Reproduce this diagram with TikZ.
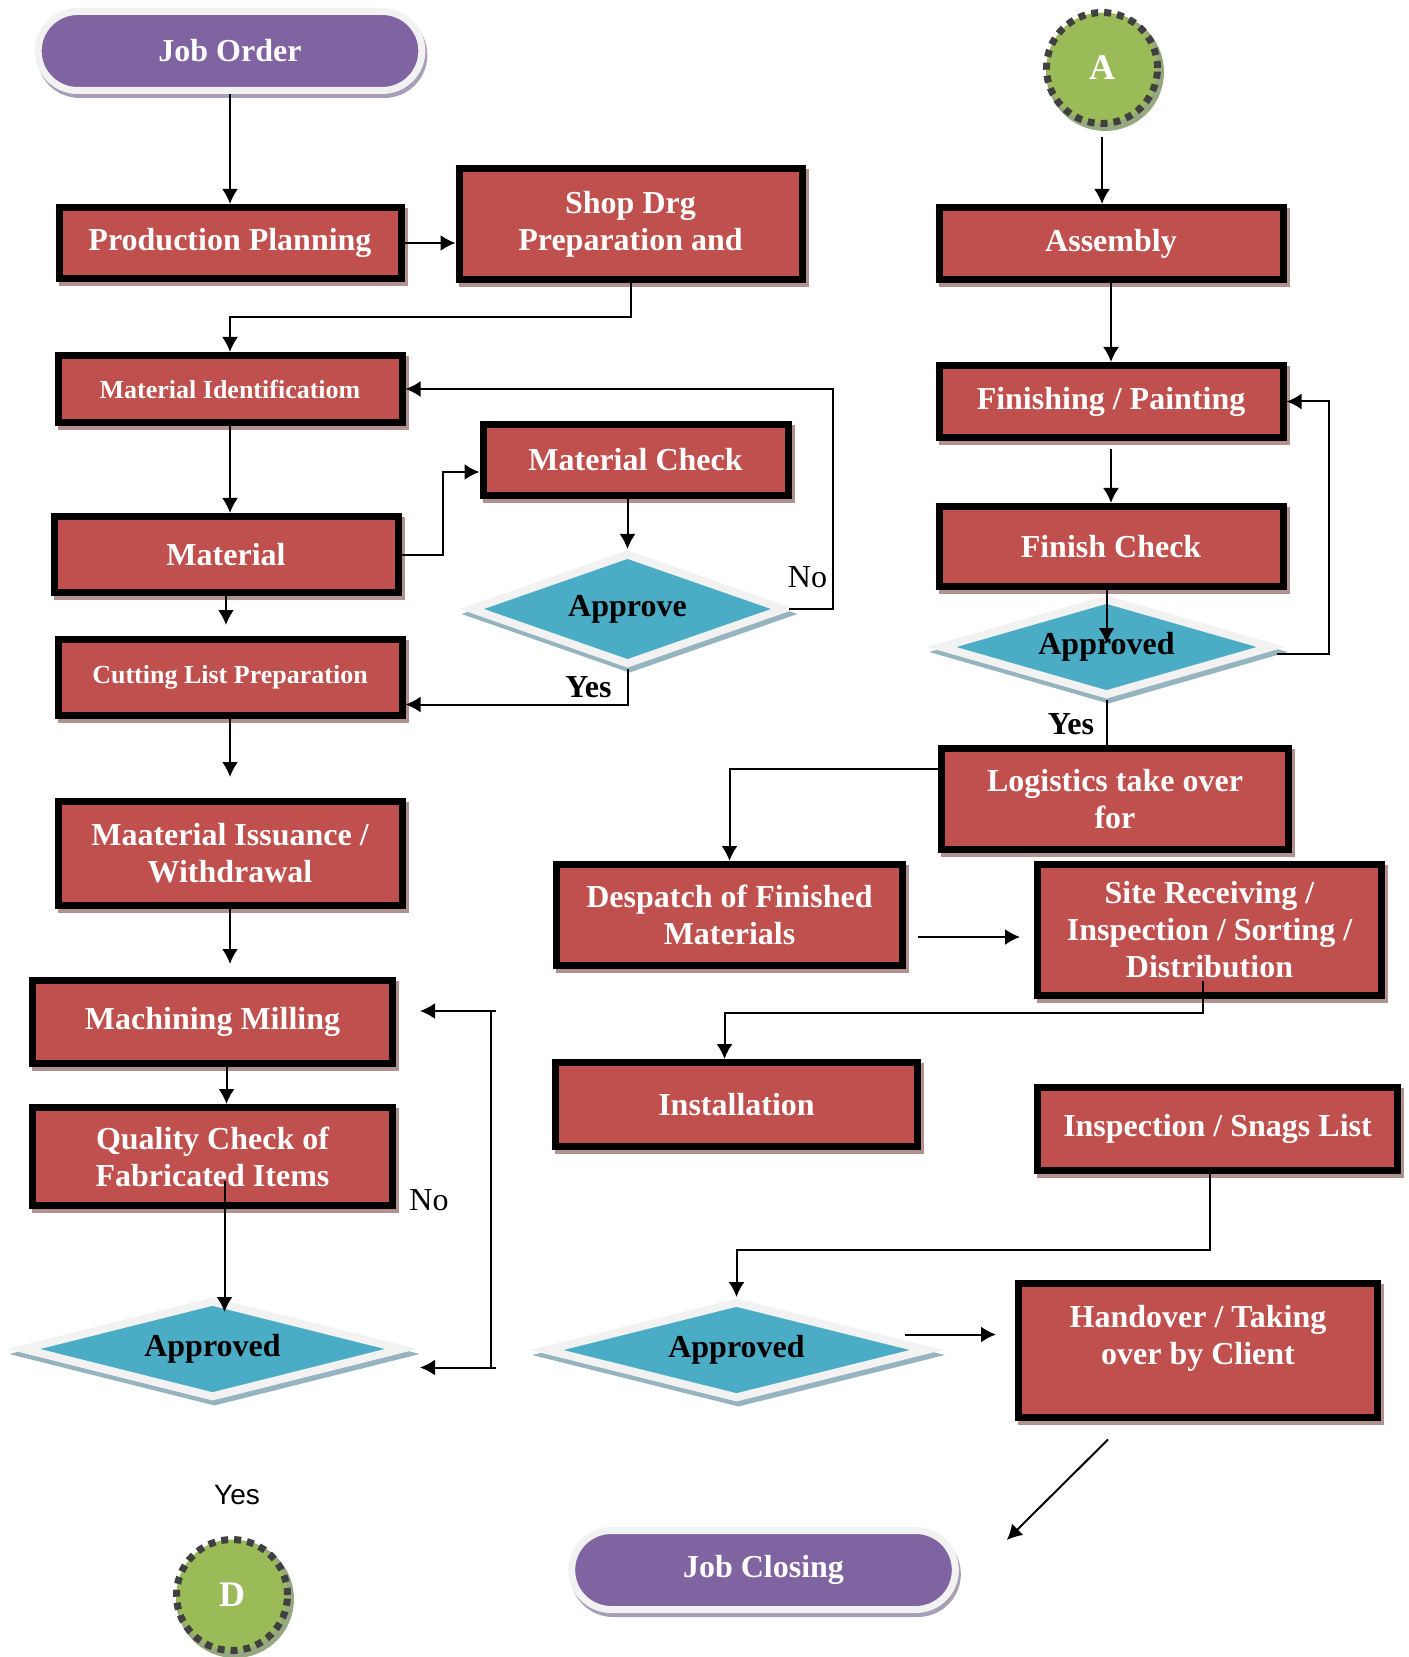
\documentclass[tikz,border=0pt]{standalone}
\usepackage{fontspec}
\setmainfont{Liberation Serif}
\newfontfamily\arialfont{Liberation Sans}
\usepackage{tikz}
\usetikzlibrary{shapes,arrows.meta,positioning,shadows,calc}
\definecolor{boxred}{RGB}{192, 80, 77}
\definecolor{termpurple}{RGB}{128, 100, 162}
\definecolor{dblue}{RGB}{75, 172, 198}
\definecolor{cgreen}{RGB}{155, 187, 89}
\definecolor{rimgray}{RGB}{242, 242, 242}
\definecolor{redshadow}{RGB}{180, 145, 145}
\definecolor{blueshadow}{RGB}{150, 180, 192}
\definecolor{purpshadow}{RGB}{168, 158, 182}
\definecolor{greenshadow}{RGB}{150, 168, 128}
\definecolor{dashgray}{RGB}{64, 64, 64}
\tikzstyle{proc} = [rectangle, draw=black, line width=3.5pt, fill=boxred, text=white, align=center, font=\bfseries\fontsize{16}{18.5}\selectfont, minimum width=172pt, minimum height=36pt, drop shadow={shadow xshift=1.5pt, shadow yshift=-2pt, fill=redshadow, draw=redshadow, opacity=1}]
\tikzstyle{decide} = [diamond, aspect=4, inner sep=0pt, draw=rimgray, line width=4pt, fill=dblue, text=black, font=\bfseries\fontsize{16}{18.5}\selectfont, drop shadow={shadow xshift=1pt, shadow yshift=-2.5pt, fill=blueshadow, draw=blueshadow, opacity=1}]
\tikzstyle{term} = [rounded rectangle, draw=rimgray, line width=3.5pt, fill=termpurple, text=white, font=\bfseries\fontsize{16}{18.5}\selectfont, minimum width=198.5pt, minimum height=39.5pt, drop shadow={shadow xshift=1pt, shadow yshift=-2pt, fill=purpshadow, draw=purpshadow, opacity=1}]
\tikzstyle{conn} = [circle, draw=dashgray, line width=3.5pt, dash pattern=on 3.5pt off 3pt, fill=cgreen, text=white, font=\bfseries\fontsize{18}{20}\selectfont, minimum size=55.5pt, inner sep=0pt, drop shadow={shadow xshift=1.5pt, shadow yshift=-2pt, fill=greenshadow, draw=greenshadow, solid, opacity=1}]
\tikzstyle{lbl} = [inner sep=0pt, font=\fontsize{16}{18}\selectfont]
\tikzstyle{lblb} = [inner sep=0pt, font=\bfseries\fontsize{16}{18}\selectfont]
\tikzstyle{tedge} = [draw, line width=1pt, ->, >={Latex[length=7.5pt,width=8pt]}]
\tikzstyle{tline} = [draw, line width=1pt]

\begin{document}
\begin{tikzpicture}[auto]
\useasboundingbox (0,0) rectangle (704pt,-828.5pt);

% left column =============================

\node[term] (jobord) at (115pt,-25.5pt) {Job Order};
\node[proc, below=55pt of jobord, minimum width=171pt, minimum height=35.5pt] (prodplan) {Production Planning};
\node[proc, right=25.5pt of prodplan, yshift=9.5pt, minimum width=171.5pt, minimum height=55.5pt] (shopdrg) {Shop Drg\\Preparation and};
\node[proc, below=35pt of prodplan, minimum height=33.5pt, font=\bfseries\fontsize{13}{15}\selectfont] (matid) {Material Identificatiom};
\node[proc, below=43.5pt of matid, xshift=-2pt, minimum height=38pt] (matrec) {Material};
\node[proc, right=37pt of matid, yshift=-35.5pt, minimum width=152.5pt, minimum height=35.5pt] (matchk) {Material Check};
\node[decide, below=25pt of matchk, xshift=-4pt, minimum width=157.5pt, minimum height=56pt] (approve) {Approve};
\node[proc, below=20pt of matrec, xshift=2pt, minimum height=38pt, font=\bfseries\fontsize{13}{15}\selectfont] (cutlist) {Cutting List Preparation};
\node[proc, below=39.5pt of cutlist, minimum height=52pt] (matiss) {Maaterial Issuance /\\Withdrawal};
\node[proc, below=34pt of matiss, xshift=-8.75pt, minimum width=180pt, minimum height=41.5pt] (machmill) {Machining Milling};
\node[proc, below=18.5pt of machmill, minimum width=180pt, minimum height=49pt] (qcheck) {Quality Check of\\Fabricated Items};
\node[decide, below=43.5pt of qcheck, minimum width=190.5pt, minimum height=49pt] (appr2) {Approved};
\node[conn] (conD) at ([shift={(9.75pt,-96.5pt)}]appr2.south) {D};

% right column =============================

\node[conn] (conA) at (551pt,-34pt) {A};
\node[proc, below=38.5pt of conA, xshift=4.5pt] (assembly) {Assembly};
\node[proc, below=39.5pt of assembly] (finish) {Finishing / Painting};
\node[proc, below=31pt of finish, minimum height=40pt] (fincheck) {Finish Check};
\node[decide, below=2pt of fincheck, xshift=-2.25pt, minimum width=166.5pt, minimum height=49pt] (appr1) {Approved};
\node[proc, below=22.5pt of appr1, xshift=4.25pt, minimum width=173.5pt, minimum height=50.5pt] (logist) {Logistics take over\\for};
\node[proc, below left=4pt and 16pt of logist, minimum width=173pt, minimum height=50.5pt] (despatch) {Despatch of Finished\\Materials};
\node[proc, right=64pt of despatch, yshift=-7.5pt, minimum height=65.5pt] (site) {Site Receiving /\\Inspection / Sorting /\\Distribution};
\node[proc, below=45pt of despatch, xshift=3.5pt, minimum width=181pt, minimum height=42pt] (install) {Installation};
\node[proc, right=56.5pt of install, yshift=-12.25pt, minimum width=180pt, minimum height=41.5pt] (snags) {Inspection / Snags List};
\node[decide, below=73.5pt of install, minimum width=191.5pt, minimum height=49pt] (appr3) {Approved};
\node[proc, right=41.5pt of appr3, minimum width=179.5pt, minimum height=67pt] (handover) {Handover / Taking\\over by Client\\[-3pt]\mbox{}};
\node[term, below=62pt of appr3, xshift=13.5pt] (jobclose) {Job Closing};

% labels
\node[lbl] (no1) at ([shift={(9.25pt,16pt)}]approve.east) {No};
\node[lblb] (yes1) at ([shift={(-19.5pt,-9pt)}]approve.south) {Yes};
\node[lbl] (no2) at ([shift={(16.5pt,-21.75pt)}]qcheck.east) {No};
\node[lbl, font=\arialfont\fontsize{14}{16}\selectfont] (yes3) at ([shift={(12.25pt,-46.5pt)}]appr2.south) {Yes};
\node[lblb] (yes2) at ([shift={(-17.75pt,-12pt)}]appr1.south) {Yes};

%edges
\path[tedge] (jobord.south) -- (jobord.south |- prodplan.north);
\path[tedge] (prodplan.east) -- (prodplan.east -| shopdrg.west);
\path[tedge] (shopdrg.south) -- ++(0,-17pt) -| (matid.north);
\path[tedge] (matid.south) -- (matid.south |- matrec.north);
\path[tedge] (matrec.east) -- ++(20.5pt,0) |- ([yshift=-6pt]matchk.west);
\path[tedge] (approve.north |- matchk.south) -- (approve.north);
\path[tedge] (approve.east) -- ++(22pt,0) |- (matid.east);
\path[tedge] (approve.south) |- ([yshift=-13.5pt]cutlist.east);
\path[tedge, shorten >=5.5pt] (matrec.south) -- (matrec.south |- cutlist.north);
\path[tedge, shorten >=10.5pt] (cutlist.south) -- (matiss.north);
\path[tedge, shorten >=6.5pt] (matiss.south) -- (matiss.south |- machmill.north);
\path[tedge] ([xshift=7pt]machmill.south) -- ([xshift=7pt]qcheck.north);
\path[tedge] ([xshift=6pt,yshift=-12pt]qcheck.center) -- ([xshift=6pt,yshift=-8pt]appr2.north);

\coordinate (loopa) at ($(machmill.east)+(50pt,5.5pt)$);
\coordinate (loopb) at ($(machmill.east |- appr2.east)+(50pt,-9.25pt)$);
\path[tedge] (loopa) -- ($(machmill.east)+(12pt,5.5pt)$);
\path[tedge] (loopb) -- ($(machmill.east |- appr2.east)+(12pt,-9.25pt)$);
\path[tline] ($(loopa)+(-2.5pt,0)$) -- ($(loopb)+(-2.5pt,0)$);

\path[tedge, shorten <=5pt] (conA.south) -- (conA.south |- assembly.north);
\path[tedge] (assembly.south) -- (finish.north);
\path[tedge, shorten <=4pt] (finish.south) -- (fincheck.north);
\path[tedge] (fincheck.south -| appr1.center) -- ([yshift=2pt]appr1.center);
\path[tedge] ([yshift=-3.5pt]appr1.east) -- ++(26pt,0) |- (finish.east);
\path[tline] (appr1.south) -- (appr1.south |- logist.north);
\path[tedge] ([yshift=15pt]logist.west) -| (despatch.north);
\path[tedge, shorten <=6pt, shorten >=7pt] ($(despatch.east)+(0,-11pt)$) -- ($(site.west |- despatch.east)+(0,-11pt)$);
\path[tedge] ([xshift=-3.5pt,yshift=-25.5pt]site.center) -- ++(0,-16pt) -| ([xshift=-6pt]install.north);
\path[tedge] ([xshift=-4pt]snags.south) -- ++(0,-38pt) -| (appr3.north);
\path[tedge] ($(appr3.east)+(-13.5pt,7.75pt)$) -- ($(handover.west)+(-9.5pt,7.75pt)$);
\path[tedge] ($(handover.south)+(-45pt,-9.5pt)$) -- ($(jobclose.east)+(24pt,15pt)$);

\end{tikzpicture}
\end{document}
